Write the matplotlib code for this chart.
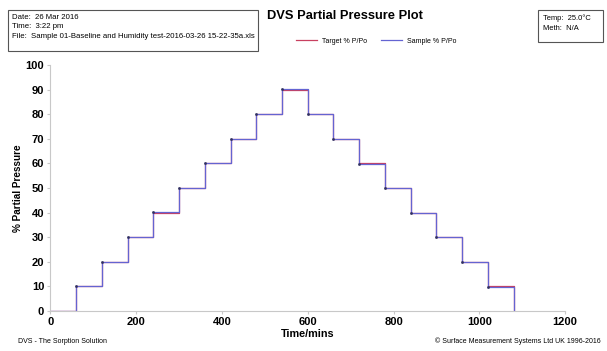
import numpy as np
import matplotlib.pyplot as plt
from matplotlib.patches import Rectangle

plt.rcParams['font.family'] = ['Liberation Sans', 'DejaVu Sans']

# step change times (mins) and target P/Po levels (%)
step_times = [0, 60, 120, 180, 240, 300, 360, 420, 480, 540, 600, 660, 720,
              780, 840, 900, 960, 1020, 1080]
target_pp = [0, 10, 20, 30, 40, 50, 60, 70, 80, 90, 80, 70, 60, 50, 40, 30,
             20, 10, 0]
sample_pp = [0, 10.1, 20.1, 30.1, 40.1, 50.1, 60.1, 70.1, 80.1, 90.1, 79.9,
             69.9, 59.9, 49.9, 39.9, 29.9, 19.9, 9.6, 0]

xticks = [0, 200, 400, 600, 800, 1000, 1200]
yticks = [0, 10, 20, 30, 40, 50, 60, 70, 80, 90, 100]

fig = plt.figure(figsize=(6.07, 3.51), dpi=100)
ax = fig.add_axes([0.083, 0.114, 0.848, 0.701])

ax.plot(step_times, target_pp, drawstyle='steps-post', color='#c84060', lw=0.9,
        label='Target % P/Po')
ax.plot(step_times[:-1], sample_pp[:-1], drawstyle='steps-post', color='#6464d2',
        lw=0.9, label='Sample % P/Po')
ax.plot([step_times[-2], step_times[-1], step_times[-1]],
        [sample_pp[-2], sample_pp[-2], sample_pp[-1]], color='#6464d2', lw=0.9)
ax.plot(step_times[1:-1], sample_pp[1:-1], 's', color='#303060', ms=0.9)

ax.set_xlim(0, 1200)
ax.set_ylim(0, 100)
ax.set_xticks(xticks)
ax.set_yticks(yticks)
for lab in ax.get_xticklabels() + ax.get_yticklabels():
    lab.set_fontweight('bold')
    lab.set_fontsize(8)
ax.tick_params(length=2.5, color='#c8c8c8', pad=2)
for s in ['top', 'right']:
    ax.spines[s].set_visible(False)
for s in ['left', 'bottom']:
    ax.spines[s].set_color('#c8c8c8')
ax.set_ylabel('% Partial Pressure', fontsize=7.2, fontweight='bold', labelpad=2)
ax.set_xlabel('Time/mins', fontsize=7.8, fontweight='bold', labelpad=1)

# header
fig.text(0.569, 0.953, 'DVS Partial Pressure Plot', ha='center', va='center',
         fontsize=9.3, fontweight='bold')
fig.legend(loc='center', bbox_to_anchor=(0.62, 0.883), ncol=2, frameon=False,
           fontsize=5, handlelength=3, columnspacing=2)

fig.patches.append(Rectangle((0.013, 0.855), 0.412, 0.116, transform=fig.transFigure,
                             fill=False, ec='#555555', lw=0.8))
fig.text(0.02, 0.951, 'Date:  26 Mar 2016', fontsize=5.6, va='center')
fig.text(0.02, 0.925, 'Time:  3:22 pm', fontsize=5.6, va='center')
fig.text(0.02, 0.897, 'File:  Sample 01-Baseline and Humidity test-2016-03-26 15-22-35a.xls',
         fontsize=5.6, va='center')

fig.patches.append(Rectangle((0.886, 0.88), 0.107, 0.0915, transform=fig.transFigure,
                             fill=False, ec='#555555', lw=0.8))
fig.text(0.894, 0.948, 'Temp:  25.0\u00b0C', fontsize=5.4, va='center')
fig.text(0.894, 0.918, 'Meth:  N/A', fontsize=5.4, va='center')

# footer
fig.text(0.03, 0.027, 'DVS - The Sorption Solution', fontsize=5, va='center')
fig.text(0.99, 0.027, '\u00a9 Surface Measurement Systems Ltd UK 1996-2016', fontsize=5,
         va='center', ha='right')

fig.savefig('out.png', dpi=100)
